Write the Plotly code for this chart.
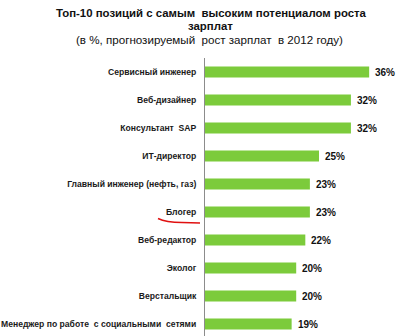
import plotly.graph_objects as go

categories = [
    "Сервисный инженер",
    "Веб-дизайнер",
    "Консультант  SAP",
    "ИТ-директор",
    "Главный инженер (нефть, газ)",
    "Блогер",
    "Веб-редактор",
    "Эколог",
    "Верстальщик",
    "Менеджер по работе  с социальными  сетями",
]
values = [36, 32, 32, 25, 23, 23, 22, 20, 20, 19]
title_line1 = "Топ-10 позиций с самым  высоким потенциалом роста"
title_line2 = "зарплат"
subtitle = "(в %, прогнозируемый  рост зарплат  в 2012 году)"

W, H = 400, 336
L, T = 205, 58
plot_w, plot_h = W - L, H - T

def px(x):
    return (x - L) / plot_w

def py(y):
    return (H - y) / plot_h

fig = go.Figure(go.Bar(
    x=values, y=list(range(len(categories))), orientation="h",
    marker=dict(color="#7CCB3B", line=dict(width=0)),
    width=0.39, hoverinfo="skip",
))

annotations = []
for i, v in enumerate(values):
    annotations.append(dict(
        x=v, y=i, xref="x", yref="y", text=f"<b>{v}%</b>", showarrow=False,
        xanchor="left", yanchor="middle", xshift=4,
        font=dict(family="Liberation Sans, Arial", size=10, color="#111111"),
    ))

font_t = dict(family="Liberation Sans, Arial", size=11.4, color="#111111")
annotations += [
    dict(x=px(211), y=py(13), xref="paper", yref="paper", text="<b>" + title_line1 + "</b>",
         showarrow=False, xanchor="center", yanchor="middle", font=font_t),
    dict(x=px(210), y=py(26), xref="paper", yref="paper", text="<b>" + title_line2 + "</b>",
         showarrow=False, xanchor="center", yanchor="middle", font=font_t),
    dict(x=px(209), y=py(40), xref="paper", yref="paper", text=subtitle,
         showarrow=False, xanchor="center", yanchor="middle",
         font=dict(family="Liberation Sans, Arial", size=11.6, color="#111111")),
]

underline = (f"M {px(158)} {py(218.5)} Q {px(166)} {py(222.5)} {px(182)} {py(222.5)} "
             f"L {px(200)} {py(223)}")

fig.update_layout(
    width=W, height=H,
    margin=dict(l=L, r=0, t=T, b=0, pad=0),
    paper_bgcolor="white", plot_bgcolor="white",
    showlegend=False,
    xaxis=dict(range=[0, plot_w / 4.56], visible=False, fixedrange=True),
    yaxis=dict(
        range=[-0.5 + plot_h / 28.0, -0.5],
        tickmode="array", tickvals=list(range(len(categories))),
        ticktext=["<b>" + c + "</b>" for c in categories],
        showline=True, linecolor="#8c8c8c", linewidth=1,
        showgrid=False, zeroline=False,
        ticks="outside", ticklen=6, tickcolor="rgba(0,0,0,0)",
        tickfont=dict(family="Liberation Sans, Arial", size=8.6, color="#1a1a1a"),
        fixedrange=True,
    ),
    annotations=annotations,
    shapes=[dict(type="path", path=underline, xref="paper", yref="paper",
                 line=dict(color="#e01010", width=1.5))],
)

fig.write_html("out.html")
